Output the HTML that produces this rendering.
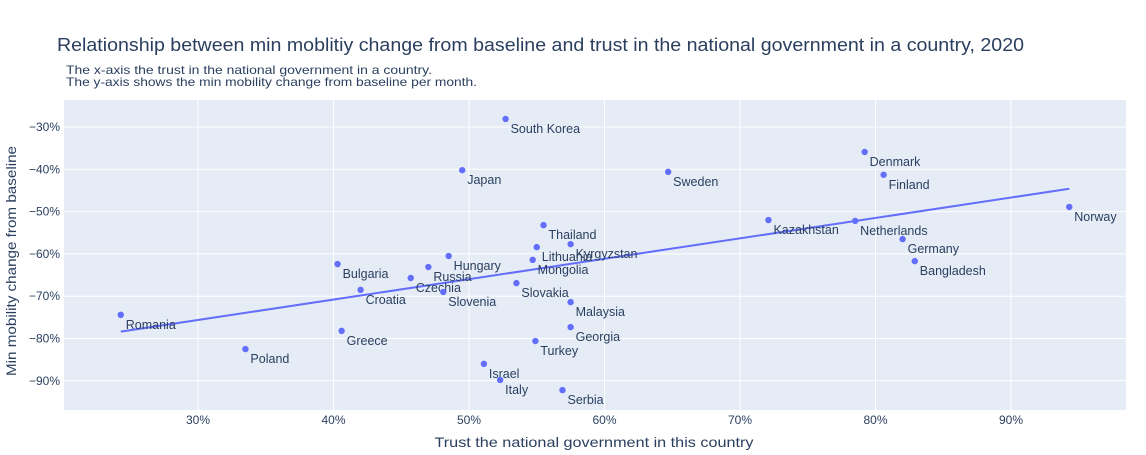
<!DOCTYPE html>
<html><head><meta charset="utf-8"><style>
body{margin:0;background:#fff;font-family:"Liberation Sans",Arial,sans-serif;}
svg text{font-family:"Liberation Sans",Arial,sans-serif;fill:#2a3f5f;}
</style></head><body>
<svg id="chart" width="1146" height="450" xmlns="http://www.w3.org/2000/svg">
<rect x="0" y="0" width="1146" height="450" fill="#fff"/>
<rect x="64" y="100" width="1062" height="310" fill="#e5ecf6"/>
<g id="grid"></g>
<g id="trend"></g>
<g id="points"></g>
<text x="57" y="51" font-size="18" textLength="967" lengthAdjust="spacingAndGlyphs">Relationship between min moblitiy change from baseline and trust in the national government in a country, 2020</text>
<text x="66" y="74" font-size="12" textLength="366" lengthAdjust="spacingAndGlyphs">The x-axis the trust in the national government in a country.</text>
<text x="66" y="86" font-size="12" textLength="411" lengthAdjust="spacingAndGlyphs">The y-axis shows the min mobility change from baseline per month.</text>
<text x="594" y="447" font-size="14" text-anchor="middle" textLength="319" lengthAdjust="spacingAndGlyphs">Trust the national government in this country</text>
<text transform="translate(16,261) rotate(-90)" font-size="14" text-anchor="middle" textLength="230" lengthAdjust="spacingAndGlyphs">Min mobility change from baseline</text>
</svg>
<script>
const countries=["South Korea","Japan","Sweden","Denmark","Finland","Norway","Kazakhstan","Netherlands","Germany","Bangladesh","Thailand","Kyrgyzstan","Lithuania","Mongolia","Hungary","Bulgaria","Russia","Czechia","Croatia","Slovenia","Slovakia","Malaysia","Romania","Greece","Georgia","Poland","Turkey","Israel","Italy","Serbia"];
const trust=[52.7,49.5,64.7,79.2,80.6,94.3,72.1,78.5,82.0,82.9,55.5,57.5,55.0,54.7,48.5,40.3,47.0,45.7,42.0,48.1,53.5,57.5,24.3,40.6,57.5,33.5,54.9,51.1,52.3,56.9];
const mobility=[-28.1,-40.2,-40.6,-35.9,-41.3,-48.9,-52.0,-52.2,-56.5,-61.7,-53.2,-57.7,-58.4,-61.4,-60.5,-62.4,-63.1,-65.7,-68.5,-69.0,-66.9,-71.4,-74.4,-78.2,-77.3,-82.5,-80.6,-86.0,-89.8,-92.2];
const xTicks=[30,40,50,60,70,80,90];
const yTicks=[-30,-40,-50,-60,-70,-80,-90];
const NS="http://www.w3.org/2000/svg";
function X(v){return -208.5+13.55*v;}
function Y(v){return 127+(-30-v)*4.23;}
function mk(tag,attrs,parent){const e=document.createElementNS(NS,tag);for(const k in attrs)e.setAttribute(k,attrs[k]);parent.appendChild(e);return e;}
const grid=document.getElementById('grid');
xTicks.forEach(t=>{
 const l=mk('line',{x1:X(t),x2:X(t),y1:100,y2:410,stroke:'#fff','stroke-width':1},grid);
 
 
 const tx=mk('text',{x:X(t),y:424,'font-size':12,'text-anchor':'middle'},grid);
 tx.textContent=t+'%';
 
 
});
yTicks.forEach(t=>{
 const l=mk('line',{x1:64,x2:1126,y1:Y(t),y2:Y(t),stroke:'#fff','stroke-width':1},grid);
 
 
 const tx=mk('text',{x:60,y:Y(t)+4,'font-size':12,'text-anchor':'end'},grid);
 tx.textContent='\u2212'+Math.abs(t)+'%';
 
 
});
const n=trust.length;let mx=0,my=0;for(let i=0;i<n;i++){mx+=trust[i];my+=mobility[i];}mx/=n;my/=n;
let sxy=0,sxx=0;for(let i=0;i<n;i++){sxy+=(trust[i]-mx)*(mobility[i]-my);sxx+=(trust[i]-mx)**2;}
const b=sxy/sxx,a=my-b*mx;const xmin=Math.min(...trust),xmax=Math.max(...trust);
const tl=mk('line',{x1:X(xmin),y1:Y(a+b*xmin),x2:X(xmax),y2:Y(a+b*xmax),stroke:'#636efa','stroke-width':2},document.getElementById('trend'));


const pg=document.getElementById('points');
countries.forEach((c,i)=>{
 const p=mk('circle',{cx:X(trust[i]),cy:Y(mobility[i]),r:3.2,fill:'#636efa'},pg);
 
 
 const t=mk('text',{x:X(trust[i])+5,y:Y(mobility[i])+14,'font-size':12.5},pg);
 t.textContent=c;
 
 
});
</script>
</body></html>
